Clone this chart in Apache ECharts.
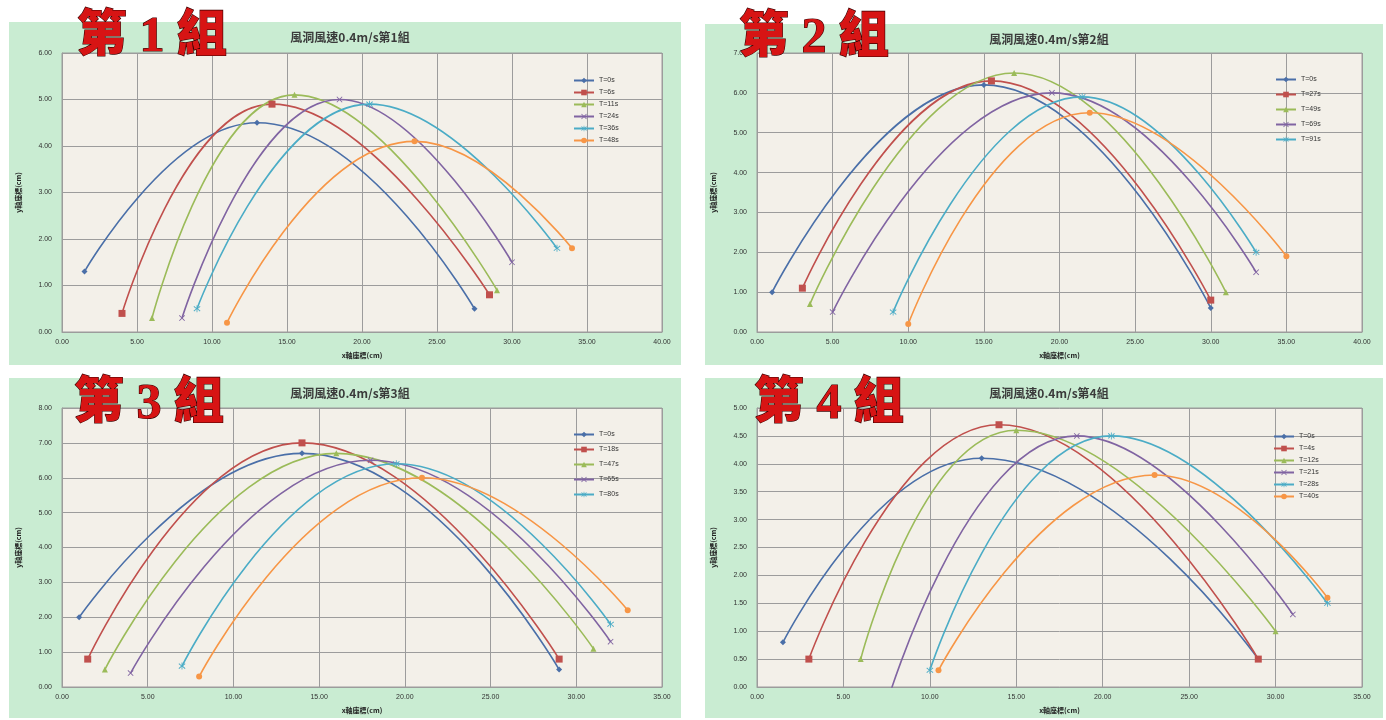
<!DOCTYPE html>
<html>
<head>
<meta charset="utf-8">
<script src="https://cdn.jsdelivr.net/npm/echarts@6/dist/echarts.min.js"></script>
<style>
  html, body { margin: 0; padding: 0; background: #ffffff; }
  #chart { width: 1386px; height: 720px; }
</style>
</head>
<body>
<div id="chart"></div>
<script>
// ---- data: [x, y] points (start, peak, end) per time step ----
// group 1
const g1Names = ['T=0s', 'T=6s', 'T=11s', 'T=24s', 'T=36s', 'T=48s']
const g1_s1 = [[1.5, 1.3], [13, 4.5], [27.5, 0.5]]
const g1_s2 = [[4, 0.4], [14, 4.9], [28.5, 0.8]]
const g1_s3 = [[6, 0.3], [15.5, 5.1], [29, 0.9]]
const g1_s4 = [[8, 0.3], [18.5, 5.0], [30, 1.5]]
const g1_s5 = [[9, 0.5], [20.5, 4.9], [33, 1.8]]
const g1_s6 = [[11, 0.2], [23.5, 4.1], [34, 1.8]]

// group 2 (6th series is not in the legend)
const g2Names = ['T=0s', 'T=27s', 'T=49s', 'T=69s', 'T=91s', 'T=?s']
const g2_s1 = [[1, 1.0], [15, 6.2], [30, 0.6]]
const g2_s2 = [[3, 1.1], [15.5, 6.3], [30, 0.8]]
const g2_s3 = [[3.5, 0.7], [17, 6.5], [31, 1.0]]
const g2_s4 = [[5, 0.5], [19.5, 6.0], [33, 1.5]]
const g2_s5 = [[9, 0.5], [21.5, 5.9], [33, 2.0]]
const g2_s6 = [[10, 0.2], [22, 5.5], [35, 1.9]]

// group 3 (6th series is not in the legend)
const g3Names = ['T=0s', 'T=18s', 'T=47s', 'T=65s', 'T=80s', 'T=?s']
const g3_s1 = [[1, 2.0], [14, 6.7], [29, 0.5]]
const g3_s2 = [[1.5, 0.8], [14, 7.0], [29, 0.8]]
const g3_s3 = [[2.5, 0.5], [16, 6.7], [31, 1.1]]
const g3_s4 = [[4, 0.4], [18, 6.5], [32, 1.3]]
const g3_s5 = [[7, 0.6], [19.5, 6.4], [32, 1.8]]
const g3_s6 = [[8, 0.3], [21, 6.0], [33, 2.2]]

// group 4
const g4Names = ['T=0s', 'T=4s', 'T=12s', 'T=21s', 'T=28s', 'T=40s']
const g4_s1 = [[1.5, 0.8], [13, 4.1], [29, 0.5]]
const g4_s2 = [[3, 0.5], [14, 4.7], [29, 0.5]]
const g4_s3 = [[6, 0.5], [15, 4.6], [30, 1.0]]
const g4_s4 = [[7.5, -0.3], [18.5, 4.5], [31, 1.3]]
const g4_s5 = [[10, 0.3], [20.5, 4.5], [33, 1.5]]
const g4_s6 = [[10.5, 0.3], [23, 3.8], [33, 1.6]]

const groupTitles = ['風洞風速0.4m/s第1組', '風洞風速0.4m/s第2組', '風洞風速0.4m/s第3組', '風洞風速0.4m/s第4組']
const bigLabels = ['第 1 組', '第 2 組', '第 3 組', '第 4 組']
const xMax = [40, 40, 35, 35]
const yMax = [6, 7, 8, 5]
const yStep = [1, 1, 1, 0.5]

const groups = [
  { names: g1Names, data: [g1_s1, g1_s2, g1_s3, g1_s4, g1_s5, g1_s6], legendCount: 6 },
  { names: g2Names, data: [g2_s1, g2_s2, g2_s3, g2_s4, g2_s5, g2_s6], legendCount: 5 },
  { names: g3Names, data: [g3_s1, g3_s2, g3_s3, g3_s4, g3_s5, g3_s6], legendCount: 5 },
  { names: g4Names, data: [g4_s1, g4_s2, g4_s3, g4_s4, g4_s5, g4_s6], legendCount: 6 },
]

// Excel 2010 palette + marker shapes
const colors = ['#4a6fa8', '#c0504d', '#9bbb59', '#8064a2', '#4bacc6', '#f79646']
const crossPath = 'path://M0,1L1,0L5,4L9,0L10,1L6,5L10,9L9,10L5,6L1,10L0,9L4,5Z'
const starPath = 'path://M4.4,0H5.6V4.2L9,1L10,2L6.4,5L10,8L9,9L5.6,5.8V10H4.4V5.8L1,9L0,8L3.6,5L0,2L1,1L4.4,4.2Z'
const symbols = ['diamond', 'rect', 'triangle', crossPath, starPath, 'circle']
const symbolSizes = [6, 7, 6, 6, 7, 6]

// panel layout
const panels = [
  { x: 9, y: 22, w: 672, h: 343, gl: 62, gt: 53, gw: 600, gh: 279, legL: 568, legT: 72, legGap: 5 },
  { x: 705, y: 24, w: 678, h: 341, gl: 757, gt: 53, gw: 605, gh: 279, legL: 1270, legT: 71, legGap: 8 },
  { x: 9, y: 378, w: 672, h: 340, gl: 62, gt: 408, gw: 600, gh: 279, legL: 568, legT: 426, legGap: 8 },
  { x: 705, y: 378, w: 678, h: 340, gl: 757, gt: 408, gw: 605, gh: 279, legL: 1268, legT: 428, legGap: 5 },
]

const gridColor = '#9c9c9c'
const labelFont = 'Liberation Sans'
const cjkFont = "'Noto Sans CJK TC', 'Noto Sans CJK SC', sans-serif"

const chart = echarts.init(document.getElementById('chart'), null, { renderer: 'canvas' })

const grid = [], xAxis = [], yAxis = [], series = [], legend = [], title = [], graphic = []

panels.forEach((p, i) => {
  graphic.push({
    type: 'rect', z: -10, silent: true,
    shape: { x: p.x, y: p.y, width: p.w, height: p.h },
    style: { fill: '#c9ecd2' },
  })
  grid.push({
    left: p.gl, top: p.gt, width: p.gw, height: p.gh,
    show: true, backgroundColor: '#f3f0e9', borderColor: gridColor, borderWidth: 1,
  })
  xAxis.push({
    gridIndex: i, type: 'value', min: 0, max: xMax[i], interval: 5,
    name: 'x軸座標(cm)', nameLocation: 'middle', nameGap: 20,
    nameTextStyle: { fontSize: 7, fontWeight: 'bold', color: '#222', fontFamily: cjkFont },
    axisLine: { show: true, lineStyle: { color: gridColor } },
    axisTick: { show: false },
    axisLabel: { fontSize: 7, color: '#333', fontFamily: labelFont, margin: 7, formatter: (v) => v.toFixed(2) },
    splitLine: { show: true, lineStyle: { color: gridColor, width: 1 } },
  })
  yAxis.push({
    gridIndex: i, type: 'value', min: 0, max: yMax[i], interval: yStep[i],
    name: 'y軸座標(cm)', nameLocation: 'middle', nameGap: 40, nameRotate: 90,
    nameTextStyle: { fontSize: 7, fontWeight: 'bold', color: '#222', fontFamily: cjkFont },
    axisLine: { show: true, lineStyle: { color: gridColor } },
    axisTick: { show: false },
    axisLabel: { fontSize: 7, color: '#333', fontFamily: labelFont, margin: 10, formatter: (v) => v.toFixed(2) },
    splitLine: { show: true, lineStyle: { color: gridColor, width: 1 } },
  })
  title.push({
    text: groupTitles[i],
    left: p.x + p.w / 2, top: p.y + 4, textAlign: 'center',
    textStyle: { fontSize: 12, fontWeight: 'bold', color: '#3a3a3a', fontFamily: cjkFont },
  })

  const g = groups[i]
  const ids = []
  g.data.forEach((pts, k) => {
    const sid = 'g' + i + '_' + k
    ids.push(g.names[k])
    series.push({
      id: sid,
      name: g.names[k],
      type: 'line',
      xAxisIndex: i, yAxisIndex: i,
      data: pts,
      smooth: 0.5,
      symbol: symbols[k],
      symbolSize: symbolSizes[k],
      showAllSymbol: true,
      clip: true,
      lineStyle: { color: colors[k], width: 1.6 },
      itemStyle: { color: colors[k] },
      emphasis: { disabled: true },
    })
  })
  legend.push({
    left: p.legL, top: p.legT, orient: 'vertical',
    itemWidth: 20, itemHeight: 7, itemGap: p.legGap,
    data: ids.slice(0, g.legendCount),
    textStyle: { fontSize: 7, color: '#333', fontFamily: labelFont },
    selectedMode: false,
  })
})

// legends pick series by name, and names repeat between panels, so give each
// panel's series a unique (invisible) suffix
series.forEach((s) => {
  const gi = parseInt(s.id.slice(1), 10)
  s.name = s.name + '\u200b'.repeat(gi)
})
legend.forEach((l, gi) => {
  l.data = l.data.map((n) => n + '\u200b'.repeat(gi))
  l.formatter = (n) => n.replace(/\u200b/g, '')
})

const bigPos = [
  { x: 77, y: 38 }, { x: 739, y: 39 }, { x: 74, y: 405 }, { x: 754, y: 405 },
]
bigLabels.forEach((t, i) => {
  graphic.push({
    type: 'text', z: 100, silent: true,
    x: bigPos[i].x, y: bigPos[i].y,
    style: {
      text: t,
      x: 0, y: 0,
      align: 'left', verticalAlign: 'middle',
      font: "900 50px 'Liberation Serif', 'Noto Sans CJK TC'",
      fill: '#d71414',
      stroke: '#3a0000', lineWidth: 1.2,
      shadowColor: 'rgba(0,0,0,0.55)', shadowBlur: 3, shadowOffsetX: 3, shadowOffsetY: 3,
    },
  })
})

chart.setOption({
  animation: false,
  color: colors,
  title,
  legend,
  grid,
  xAxis,
  yAxis,
  series,
  graphic,
})
</script>
</body>
</html>
